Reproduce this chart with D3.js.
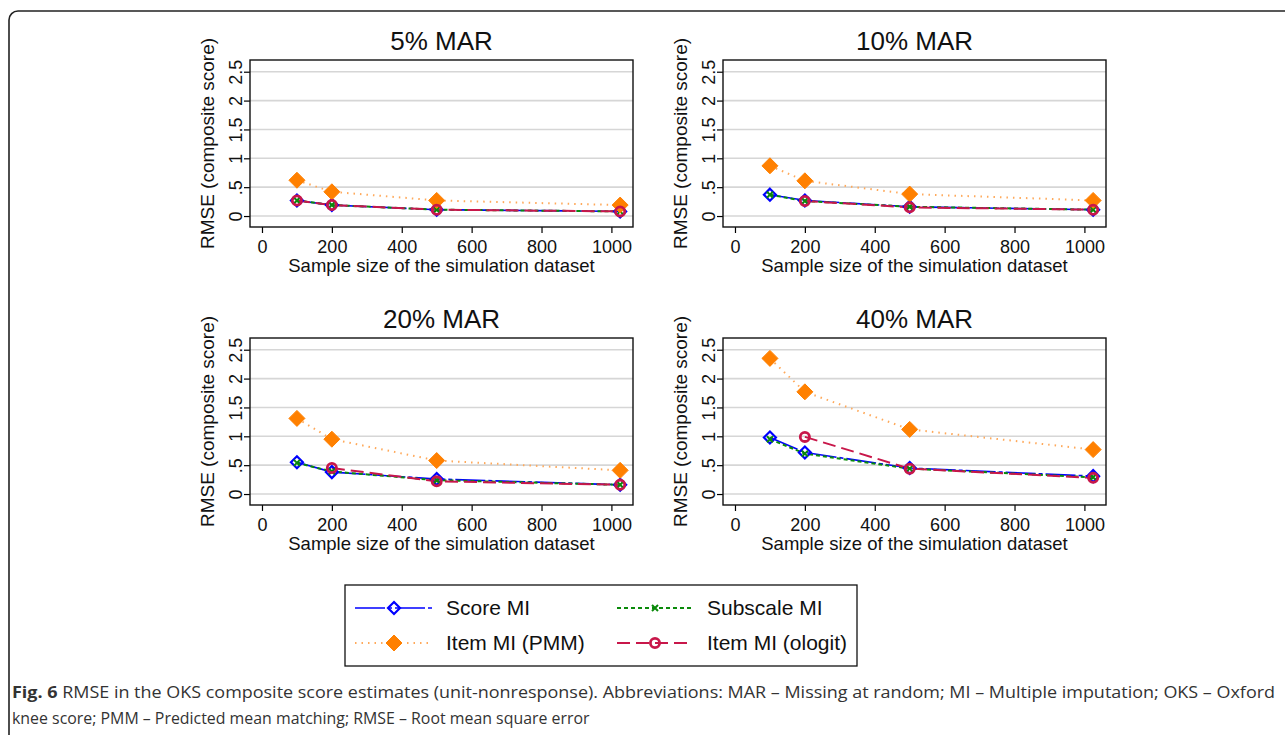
<!DOCTYPE html>
<html><head><meta charset="utf-8">
<script src="https://cdn.jsdelivr.net/npm/d3@7"></script>
<style>
html,body{margin:0;padding:0;background:#fff;}
svg{display:block;}
</style></head>
<body>
<svg id="chart" width="1285" height="735"></svg>
<script>
// ---------- DATA ----------
const sampleSizes = [100, 200, 500, 1025];
const panelTitles = ["5% MAR", "10% MAR", "20% MAR", "40% MAR"];
const scoreMI    = [[0.27,0.19,0.11,0.08],[0.37,0.27,0.16,0.11],[0.55,0.38,0.26,0.16],[0.98,0.72,0.45,0.31]];
const subscaleMI = [[0.27,0.19,0.11,0.08],[0.37,0.26,0.16,0.11],[0.54,0.39,0.24,0.16],[0.95,0.70,0.44,0.29]];
const itemPMM    = [[0.62,0.42,0.27,0.19],[0.87,0.61,0.38,0.27],[1.31,0.95,0.58,0.41],[2.35,1.77,1.12,0.77]];
const itemOlogit = [[0.27,0.19,0.11,0.08],[null,0.26,0.15,0.11],[null,0.45,0.22,0.16],[null,0.99,0.44,0.28]];
const xTicks = [0, 200, 400, 600, 800, 1000];
const yTicks = [0, 0.5, 1, 1.5, 2, 2.5];
const yTickLabels = ["0", ".5", "1", "1.5", "2", "2.5"];
const seriesNames = ["Score MI", "Subscale MI", "Item MI (PMM)", "Item MI (ologit)"];
const xTitle = "Sample size of the simulation dataset";
const yTitle = "RMSE (composite score)";
const captionBold = "Fig. 6";
const captionLine1 = " RMSE in the OKS composite score estimates (unit-nonresponse). Abbreviations: MAR \u2013 Missing at random; MI \u2013 Multiple imputation; OKS \u2013 Oxford";
const captionLine2 = "knee score; PMM \u2013 Predicted mean matching; RMSE \u2013 Root mean square error";

// ---------- STYLE ----------
const FONT = "'Liberation Sans', Arial, Helvetica, sans-serif";
const styles = [
  {key:"score",    data:scoreMI,    color:"#0000ff", width:1.6, dash:"30,3,4,3", marker:"diamondHollow"},
  {key:"subscale", data:subscaleMI, color:"#0a8a0a", width:2,   dash:"4,3",      marker:"x"},
  {key:"pmm",      data:itemPMM,    color:"#ff8000", lineColor:"#ffa95a", width:2, dash:"1.5,5", marker:"diamondFilled"},
  {key:"ologit",   data:itemOlogit, color:"#c8174a", width:2,   dash:"13,6",     marker:"circle"}
];

const svg = d3.select("#chart");
svg.append("rect").attr("width",1285).attr("height",735).attr("fill","#fff");
// outer frame (rounded top-left corner)
svg.append("rect").attr("x",9).attr("y",11).attr("width",1400).attr("height",900)
  .attr("rx",9).attr("fill","none").attr("stroke","#222").attr("stroke-width",1.6);

const boxW = 383, boxH = 167;
const boxes = [{x:250,y:60},{x:723,y:60},{x:250,y:338},{x:723,y:338}];

function drawMarker(g, type, color, cx, cy) {
  if (type === "diamondHollow") {
    const s = 6;
    g.append("path").attr("d",`M${cx},${cy-s}L${cx+s},${cy}L${cx},${cy+s}L${cx-s},${cy}Z`)
      .attr("fill","none").attr("stroke",color).attr("stroke-width",2.2);
  } else if (type === "diamondFilled") {
    const s = 8;
    g.append("path").attr("d",`M${cx},${cy-s}L${cx+s},${cy}L${cx},${cy+s}L${cx-s},${cy}Z`)
      .attr("fill",color).attr("stroke",color).attr("stroke-width",1);
  } else if (type === "x") {
    const s = 3;
    g.append("path").attr("d",`M${cx-s},${cy-s}L${cx+s},${cy+s}M${cx-s},${cy+s}L${cx+s},${cy-s}`)
      .attr("stroke",color).attr("stroke-width",2).attr("fill","none");
  } else if (type === "circle") {
    g.append("circle").attr("cx",cx).attr("cy",cy).attr("r",4.6)
      .attr("fill","none").attr("stroke",color).attr("stroke-width",2.8);
  }
}

panelTitles.forEach((title, i) => {
  const b = boxes[i];
  const g = svg.append("g").attr("transform",`translate(${b.x},${b.y})`);
  const x = d3.scaleLinear().domain([-34.3, 1061.8]).range([0, boxW]);
  const y = d3.scaleLinear().domain([-0.19, 2.703]).range([boxH, 0]);

  // gridlines
  g.selectAll("line.grid").data(yTicks).enter().append("line")
    .attr("x1",0).attr("x2",boxW).attr("y1",d=>y(d)).attr("y2",d=>y(d))
    .attr("stroke","#d6d6d6").attr("stroke-width",1.6);

  // axes
  const xa = g.append("g").attr("transform",`translate(0,${boxH})`)
    .call(d3.axisBottom(x).tickValues(xTicks).tickSize(6).tickPadding(5).tickFormat(d3.format("d")));
  xa.select(".domain").remove();
  xa.selectAll("line").attr("stroke","#000").attr("stroke-width",1.2);
  xa.selectAll("text").attr("font-family",FONT).attr("font-size",18).attr("fill","#111")
    .attr("dy",null).attr("y",26);

  const ya = g.append("g")
    .call(d3.axisLeft(y).tickValues(yTicks).tickSize(6).tickFormat((d,j)=>yTickLabels[j]));
  ya.select(".domain").remove();
  ya.selectAll("line").attr("stroke","#000").attr("stroke-width",1.2);
  ya.selectAll("text").attr("font-family",FONT).attr("font-size",18).attr("fill","#111")
    .attr("x",null).attr("dy",null).attr("text-anchor","middle")
    .attr("transform","translate(-8,0) rotate(-90)").attr("y",0);

  // box
  g.append("rect").attr("width",boxW).attr("height",boxH)
    .attr("fill","none").attr("stroke","#111").attr("stroke-width",1.4);

  // titles
  g.append("text").attr("x",boxW/2).attr("y",-10).attr("text-anchor","middle")
    .attr("font-family",FONT).attr("font-size",26).attr("fill","#111").text(title);
  g.append("text").attr("x",boxW/2).attr("y",boxH+45).attr("text-anchor","middle")
    .attr("font-family",FONT).attr("font-size",18.5).attr("fill","#111").text(xTitle);
  g.append("text").attr("transform",`translate(-36,${boxH/2}) rotate(-90)`).attr("text-anchor","middle")
    .attr("font-family",FONT).attr("font-size",19).attr("fill","#111").text(yTitle);

  // series
  const line = d3.line().defined(d=>d.v!=null).x(d=>x(d.n)).y(d=>y(d.v));
  styles.forEach(s => {
    const pts = sampleSizes.map((n,k)=>({n:n, v:s.data[i][k]}));
    g.append("path").datum(pts).attr("d",line).attr("fill","none")
      .attr("stroke",s.lineColor||s.color).attr("stroke-width",s.width)
      .attr("stroke-dasharray",s.dash);
  });
  styles.forEach(s => {
    sampleSizes.forEach((n,k) => {
      const v = s.data[i][k];
      if (v != null) drawMarker(g, s.marker, s.color, x(n), y(v));
    });
  });
});

// ---------- LEGEND ----------
const lg = svg.append("g");
lg.append("rect").attr("x",345).attr("y",585).attr("width",512).attr("height",81)
  .attr("fill","#fff").attr("stroke","#111").attr("stroke-width",1.3);
const legPos = [
  {x1:355, x2:433, y:608, tx:446},
  {x1:617, x2:693, y:608, tx:707},
  {x1:355, x2:433, y:643, tx:446},
  {x1:617, x2:693, y:643, tx:707}
];
styles.forEach((s, j) => {
  const p = legPos[j];
  lg.append("line").attr("x1",p.x1).attr("x2",p.x2).attr("y1",p.y).attr("y2",p.y)
    .attr("stroke",s.lineColor||s.color).attr("stroke-width",s.width).attr("stroke-dasharray",s.dash);
  drawMarker(lg, s.marker, s.color, (p.x1+p.x2)/2, p.y);
  lg.append("text").attr("x",p.tx).attr("y",p.y).attr("dy","0.35em")
    .attr("font-family",FONT).attr("font-size",21).attr("fill","#111").text(seriesNames[j]);
});

// ---------- CAPTION ----------
const CFONT = "'Open Sans', 'Noto Sans', sans-serif";
const c1 = svg.append("text").attr("x",0).attr("y",0)
  .attr("font-family",CFONT).attr("font-size",16).attr("fill","#333");
c1.append("tspan").attr("font-weight","bold").text(captionBold);
c1.append("tspan").text(captionLine1);
const w1 = c1.node().getComputedTextLength();
c1.attr("transform",`translate(12,698) scale(${1264/w1},1)`);
const c2 = svg.append("text").attr("x",0).attr("y",0)
  .attr("font-family",CFONT).attr("font-size",16).attr("fill","#333").text(captionLine2);
const w2 = c2.node().getComputedTextLength();
c2.attr("transform",`translate(12,724) scale(${578/w2},1)`);
</script>
</body></html>
